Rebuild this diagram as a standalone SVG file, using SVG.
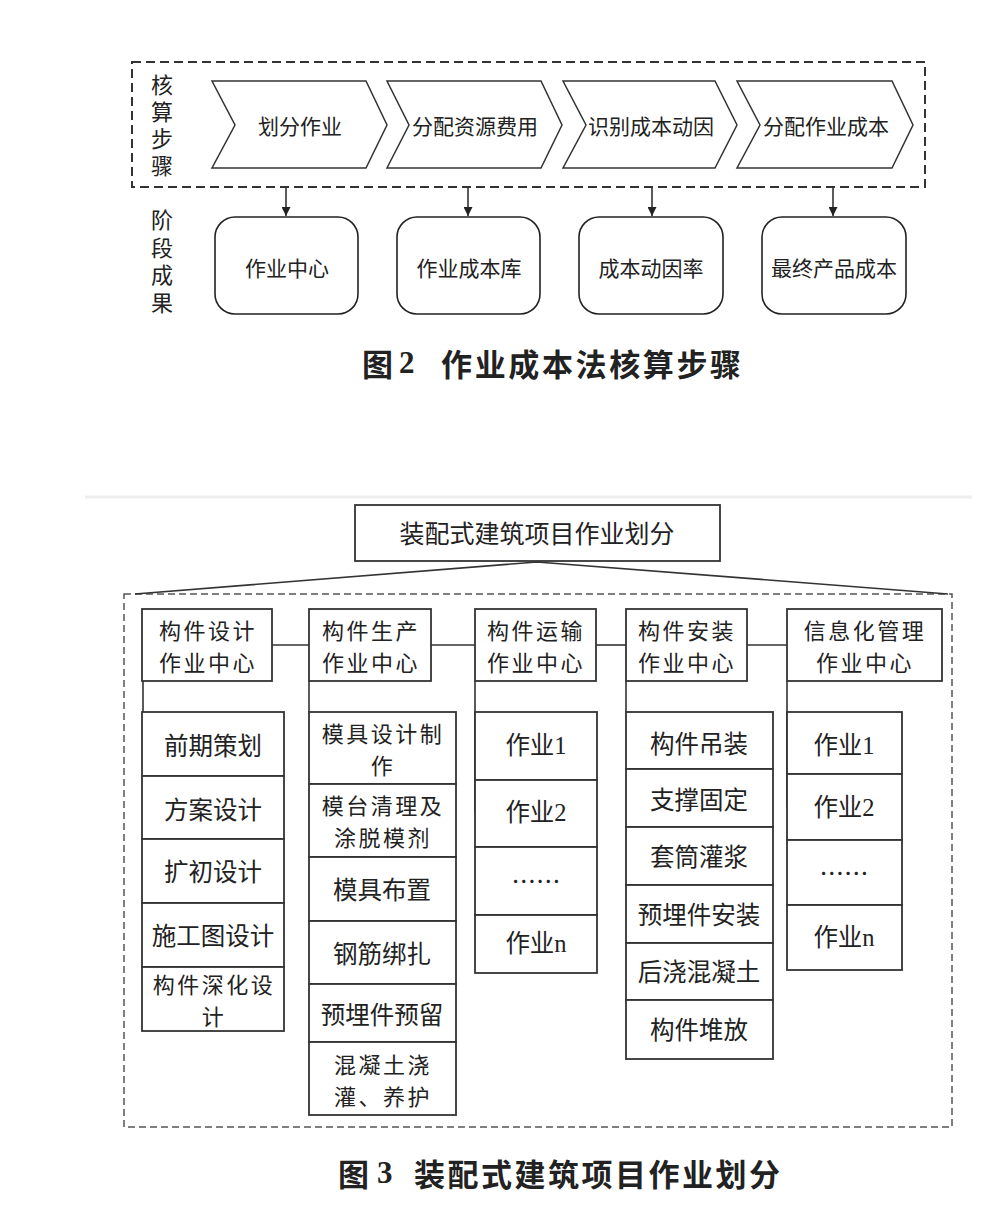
<svg xmlns="http://www.w3.org/2000/svg" width="994" height="1214" viewBox="0 0 994 1214">
<defs>
<marker id="arr" viewBox="0 0 10 10" refX="10" refY="5" markerWidth="9" markerHeight="9" markerUnits="userSpaceOnUse" orient="auto">
<path d="M0,0 L10,5 L0,10 z" fill="#222"/>
</marker>
</defs>
<style>
text{font-family:"Noto Sans CJK SC","Noto Sans",sans-serif;fill:#222;text-anchor:middle;dominant-baseline:central}
.chev{fill:#fff;stroke:#333;stroke-width:1.5}
.rbox{fill:#fff;stroke:#222;stroke-width:1.6}
.box{fill:#fff;stroke:#333;stroke-width:1.8}
.dash1{fill:none;stroke:#333;stroke-width:2;stroke-dasharray:9 5}
.dash2{fill:none;stroke:#555;stroke-width:1.5;stroke-dasharray:7 4}
.ln{fill:none;stroke:#333;stroke-width:1.6}
.vert{font-size:22px;writing-mode:vertical-rl}
.t21{font-size:21px}
.t22{font-size:22px;letter-spacing:2.5px}
.t24{font-size:24.5px}
.t25{font-size:25px}
.num{font-family:"Liberation Serif","Noto Sans CJK SC",serif}
.cap{font-weight:bold;font-size:31px;text-anchor:start}
</style>
<rect width="994" height="1214" fill="#fff"/>

<!-- Figure 2 -->
<rect id="steps-frame" class="dash1" x="132" y="62" width="793" height="125"/>
<g id="label-steps">
<text class="vert" x="162" y="128" style="letter-spacing:5px">核算步骤</text>
</g>
<g id="label-results">
<text class="vert" x="162" y="264" style="letter-spacing:5.6px">阶段成果</text>
</g>
<g id="step1"><polygon class="chev" points="212,81 366,81 387,125 366,168 212,168 235,125"/><text class="t21" x="300" y="125">划分作业</text></g>
<g id="step2"><polygon class="chev" points="387,81 541,81 562,125 541,168 387,168 409,125"/><text class="t21" x="475" y="125">分配资源费用</text></g>
<g id="step3"><polygon class="chev" points="563,81 715,81 737,125 715,168 563,168 586,125"/><text class="t21" x="651" y="125">识别成本动因</text></g>
<g id="step4"><polygon class="chev" points="737,81 892,81 913,125 892,168 737,168 760,125"/><text class="t21" x="826" y="125">分配作业成本</text></g>

<g id="res1"><rect class="rbox" x="215" y="217" width="143" height="97" rx="20"/><text class="t21" x="287" y="267">作业中心</text></g>
<g id="res2"><rect class="rbox" x="397" y="217" width="143" height="97" rx="20"/><text class="t21" x="469" y="267">作业成本库</text></g>
<g id="res3"><rect class="rbox" x="579" y="217" width="144" height="97" rx="20"/><text class="t21" x="651" y="267">成本动因率</text></g>
<g id="res4"><rect class="rbox" x="762" y="217" width="144" height="97" rx="20"/><text class="t21" x="834" y="267">最终产品成本</text></g>

<g id="connectors-fig2">
<line class="ln" x1="286" y1="187" x2="286" y2="216" marker-end="url(#arr)"/>
<line class="ln" x1="468" y1="187" x2="468" y2="216" marker-end="url(#arr)"/>
<line class="ln" x1="652" y1="187" x2="652" y2="216" marker-end="url(#arr)"/>
<line class="ln" x1="833" y1="187" x2="833" y2="216" marker-end="url(#arr)"/>
</g>

<text class="cap" y="362"><tspan x="362">图</tspan><tspan x="399" font-family="Liberation Serif, serif">2</tspan><tspan x="441" textLength="300" lengthAdjust="spacing">作业成本法核算步骤</tspan></text>

<line x1="85" y1="497" x2="972" y2="497" stroke="#eeeeee" stroke-width="3"/>

<!-- Figure 3 -->
<rect id="centers-frame" class="dash2" x="124" y="594" width="828" height="533"/>

<g id="root"><rect class="box" x="355" y="505" width="365" height="56"/><text class="t25" x="537" y="532">装配式建筑项目作业划分</text></g>

<g id="connectors-fig3">
<polyline class="ln" points="135,594 537,562 948,594"/>
<line class="ln" x1="272" y1="645" x2="309" y2="645"/>
<line class="ln" x1="431" y1="645" x2="475" y2="645"/>
<line class="ln" x1="596" y1="645" x2="626" y2="645"/>
<line class="ln" x1="747" y1="645" x2="787" y2="645"/>
<line class="ln" x1="143" y1="681" x2="143" y2="712"/>
<line class="ln" x1="309" y1="681" x2="309" y2="712"/>
<line class="ln" x1="475" y1="681" x2="475" y2="813"/>
<line class="ln" x1="626" y1="681" x2="626" y2="712"/>
<line class="ln" x1="787" y1="681" x2="787" y2="807"/>
</g>

<g id="c1"><rect class="box" x="142" y="609" width="130" height="72"/><text class="t22" x="208" y="629">构件设计</text><text class="t22" x="208" y="661">作业中心</text></g>
<g id="c2"><rect class="box" x="309" y="609" width="122" height="72"/><text class="t22" x="371" y="629">构件生产</text><text class="t22" x="371" y="661">作业中心</text></g>
<g id="c3"><rect class="box" x="475" y="609" width="121" height="72"/><text class="t22" x="536" y="629">构件运输</text><text class="t22" x="536" y="661">作业中心</text></g>
<g id="c4"><rect class="box" x="626" y="609" width="121" height="72"/><text class="t22" x="687" y="629">构件安装</text><text class="t22" x="687" y="661">作业中心</text></g>
<g id="c5"><rect class="box" x="787" y="609" width="155" height="72"/><text class="t22" x="865" y="629">信息化管理</text><text class="t22" x="865" y="661">作业中心</text></g>

<g id="col1">
<rect class="box" x="142" y="712" width="142" height="64"/><text class="t24" x="213" y="744">前期策划</text>
<rect class="box" x="142" y="776" width="142" height="63"/><text class="t24" x="213" y="808">方案设计</text>
<rect class="box" x="142" y="839" width="142" height="64"/><text class="t24" x="213" y="870">扩初设计</text>
<rect class="box" x="142" y="903" width="142" height="64"/><text class="t24" x="213" y="934">施工图设计</text>
<rect class="box" x="142" y="967" width="142" height="64"/><text class="t22" x="214" y="983">构件深化设</text><text class="t22" x="214" y="1015">计</text>
</g>

<g id="col2">
<rect class="box" x="309" y="712" width="147" height="72"/><text class="t22" x="383" y="732">模具设计制</text><text class="t22" x="383" y="764">作</text>
<rect class="box" x="309" y="784" width="147" height="73"/><text class="t22" x="383" y="804">模台清理及</text><text class="t22" x="383" y="836">涂脱模剂</text>
<rect class="box" x="309" y="857" width="147" height="64"/><text class="t24" x="382" y="888">模具布置</text>
<rect class="box" x="309" y="921" width="147" height="63"/><text class="t24" x="382" y="952">钢筋绑扎</text>
<rect class="box" x="309" y="984" width="147" height="58"/><text class="t24" x="382" y="1013">预埋件预留</text>
<rect class="box" x="309" y="1042" width="147" height="73"/><text class="t22" x="383" y="1063">混凝土浇</text><text class="t22" x="383" y="1095">灌、养护</text>
</g>

<g id="col3">
<rect class="box" x="475" y="712" width="122" height="68"/><text class="t24 num" x="536" y="745">作业1</text>
<rect class="box" x="475" y="780" width="122" height="67"/><text class="t24 num" x="536" y="812">作业2</text>
<rect class="box" x="475" y="847" width="122" height="68"/><text class="t24" x="536" y="880">……</text>
<rect class="box" x="475" y="915" width="122" height="58"/><text class="t24 num" x="536" y="943">作业n</text>
</g>

<g id="col4">
<rect class="box" x="626" y="712" width="147" height="57"/><text class="t24" x="699" y="742">构件吊装</text>
<rect class="box" x="626" y="769" width="147" height="58"/><text class="t24" x="699" y="798">支撑固定</text>
<rect class="box" x="626" y="827" width="147" height="58"/><text class="t24" x="699" y="855">套筒灌浆</text>
<rect class="box" x="626" y="885" width="147" height="58"/><text class="t24" x="699" y="913">预埋件安装</text>
<rect class="box" x="626" y="943" width="147" height="57"/><text class="t24" x="699" y="970">后浇混凝土</text>
<rect class="box" x="626" y="1000" width="147" height="59"/><text class="t24" x="699" y="1028">构件堆放</text>
</g>

<g id="col5">
<rect class="box" x="787" y="712" width="115" height="62"/><text class="t24 num" x="844" y="745">作业1</text>
<rect class="box" x="787" y="774" width="115" height="66"/><text class="t24 num" x="844" y="807">作业2</text>
<rect class="box" x="787" y="840" width="115" height="65"/><text class="t24" x="844" y="872">……</text>
<rect class="box" x="787" y="905" width="115" height="65"/><text class="t24 num" x="844" y="937">作业n</text>
</g>

<text class="cap" y="1172"><tspan x="338">图</tspan><tspan x="377" font-family="Liberation Serif, serif">3</tspan><tspan x="414" textLength="366" lengthAdjust="spacing">装配式建筑项目作业划分</tspan></text>
</svg>
